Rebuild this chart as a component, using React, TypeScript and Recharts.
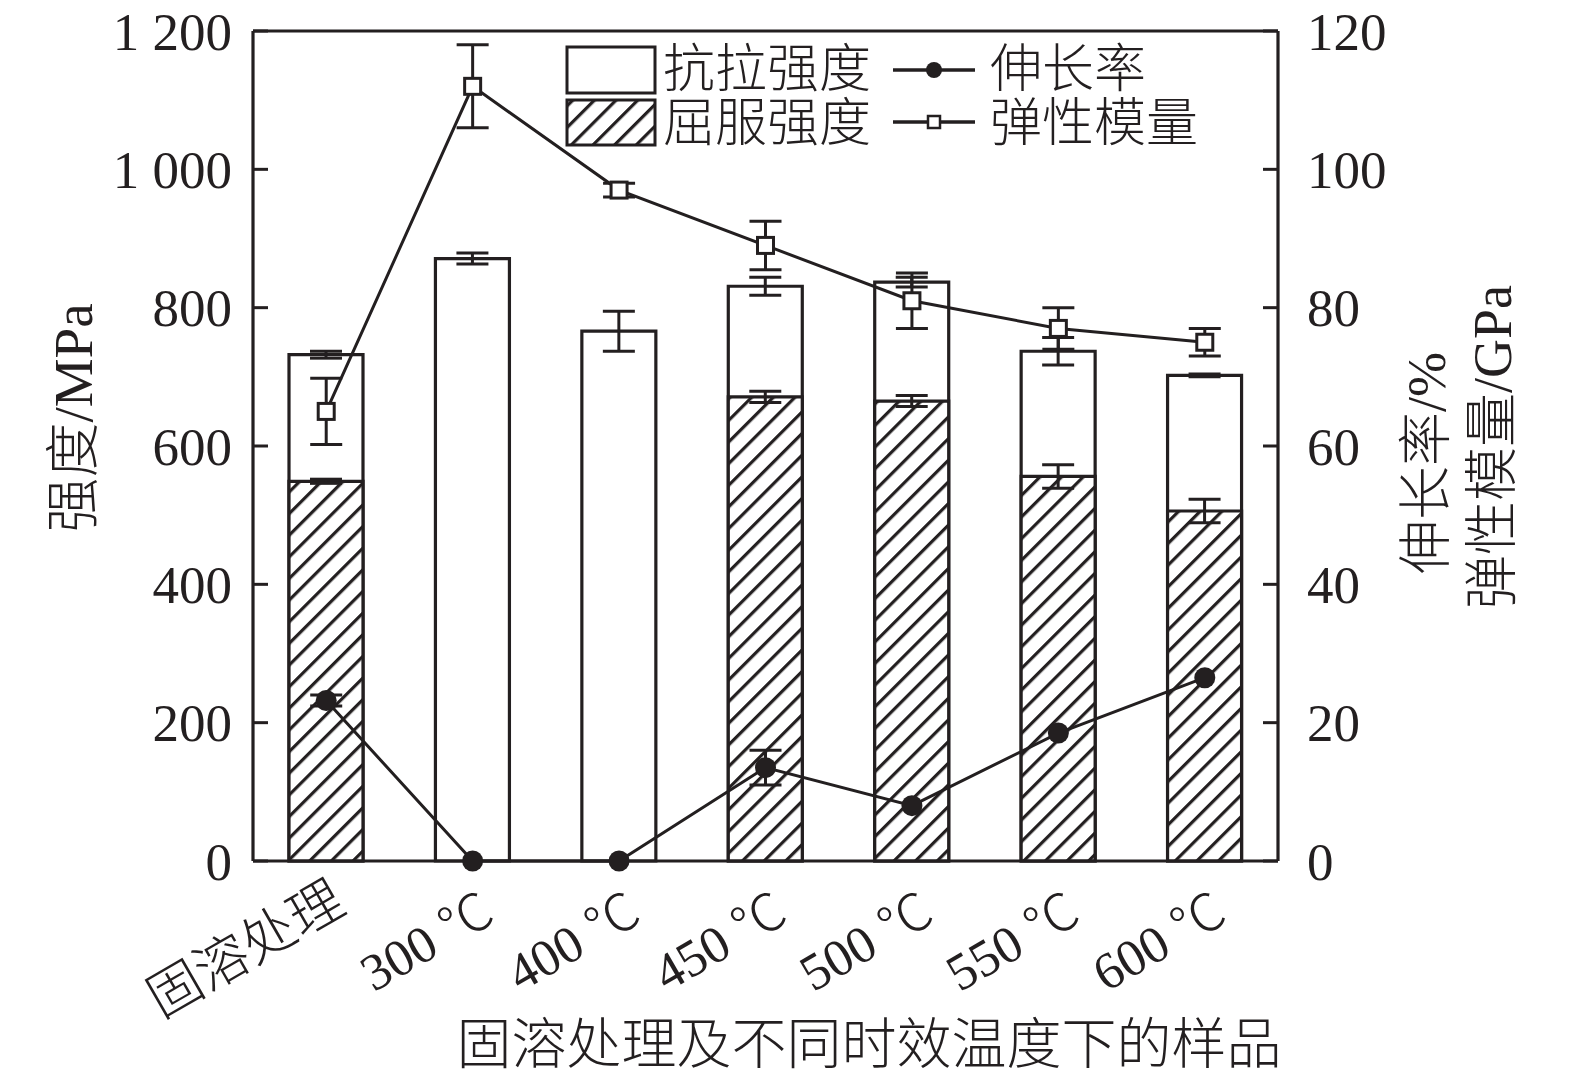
import React from 'react';
import {
  ComposedChart,
  Bar,
  Line,
  XAxis,
  YAxis,
  ErrorBar,
  ReferenceLine,
} from 'recharts';

const INK = '#231f20';
const FONT = "'Liberation Serif', 'Noto Sans CJK SC', serif";

// ---- data ----
const categories = ['固溶处理', '300 ℃', '400 ℃', '450 ℃', '500 ℃', '550 ℃', '600 ℃'];
const tensileStrength = [732, 871, 766, 831, 837, 737, 702];
const tensileErr = [5, 8, 29, 13, 7, 20, 2];
const yieldStrength: (number | null)[] = [549, null, null, 671, 665, 556, 506];
const yieldErr: (number | null)[] = [3, null, null, 8, 8, 17, 17];
const elongation = [23.2, 0, 0, 13.5, 8, 18.5, 26.5];
const elongationErr = [0.8, 0, 0, 2.5, 0, 0, 0];
const modulus = [65, 112, 97, 89, 81, 77, 75];
const modulusErr = [4.8, 6, 1, 3.5, 4, 3, 2];

const leftTicks = [0, 200, 400, 600, 800, 1000, 1200];
const rightTicks = [0, 20, 40, 60, 80, 100, 120];

const data = categories.map((name, i) => ({
  name,
  tensile: tensileStrength[i],
  tensileErr: tensileErr[i],
  yield: yieldStrength[i],
  yieldErr: yieldErr[i],
  elong: elongation[i],
  elongErr: elongationErr[i],
  mod: modulus[i],
  modErr: modulusErr[i],
}));

const fmtThousands = (v: number) => String(v).replace(/\B(?=(\d{3})+(?!\d))/g, ' ');

const XTick = (props: any) => {
  const { x, y, payload } = props;
  const isCJK = /[\u4e00-\u9fff]/.test(payload.value);
  const tx = x + (isCJK ? 22 : 25);
  const ty = y + (isCJK ? 50 : 60);
  return (
    <text
      x={tx}
      y={ty}
      transform={`rotate(-30, ${tx}, ${ty})`}
      textAnchor="end"
      fontFamily={FONT}
      fontWeight={300}
      fontSize={isCJK ? 54 : 52}
      fill={INK}
    >
      {payload.value}
    </text>
  );
};

const SquareDot = (props: any) => {
  const { cx, cy, index } = props;
  if (cx == null || cy == null) return <g key={`sq-${index}`} />;
  return (
    <rect
      key={`sq-${index}`}
      x={cx - 8}
      y={cy - 8}
      width={16}
      height={16}
      fill="#fff"
      stroke={INK}
      strokeWidth={3}
    />
  );
};

const CircleDot = (props: any) => {
  const { cx, cy, index } = props;
  if (cx == null || cy == null) return <g key={`ci-${index}`} />;
  return <circle key={`ci-${index}`} cx={cx} cy={cy} r={10.5} fill={INK} />;
};

const cjk = { fontFamily: FONT, fontWeight: 300, fill: INK } as const;

export default function App() {
  return (
    <div style={{ position: 'absolute', left: 0, top: 0 }}>
      <ComposedChart
        width={1575}
        height={1079}
        data={data}
        margin={{ top: 31, right: 147, bottom: 0, left: 0 }}
        barGap={-74}
        barSize={74}
      >
        <defs>
          <pattern
            id="hatch"
            width="15.3"
            height="15.3"
            patternUnits="userSpaceOnUse"
            patternTransform="rotate(45)"
          >
            <rect x="0" y="0" width="15.3" height="15.3" fill="#fff" />
            <line x1="1.6" y1="-1" x2="1.6" y2="16.3" stroke={INK} strokeWidth={3.2} />
          </pattern>
        </defs>
        <XAxis
          dataKey="name"
          height={218}
          interval={0}
          tickLine={false}
          tickSize={0}
          tickMargin={0}
          axisLine={{ stroke: INK, strokeWidth: 3.2 }}
          tick={<XTick />}
        />
        <YAxis
          yAxisId="left"
          width={253}
          domain={[0, 1200]}
          ticks={leftTicks}
          interval={0}
          tickFormatter={fmtThousands}
          tickSize={-15}
          tickMargin={36}
          axisLine={{ stroke: INK, strokeWidth: 3.2 }}
          tickLine={{ stroke: INK, strokeWidth: 3 }}
          tick={{ fontFamily: FONT, fontSize: 53, fill: INK }}
        />
        <YAxis
          yAxisId="right"
          orientation="right"
          width={150}
          domain={[0, 120]}
          ticks={rightTicks}
          interval={0}
          tickSize={-15}
          tickMargin={44}
          axisLine={{ stroke: INK, strokeWidth: 3.2 }}
          tickLine={{ stroke: INK, strokeWidth: 3 }}
          tick={{ fontFamily: FONT, fontSize: 53, fill: INK }}
        />
        <ReferenceLine yAxisId="left" y={1200} stroke={INK} strokeWidth={3.2} />
        <Bar
          yAxisId="left"
          dataKey="tensile"
          fill="#fff"
          stroke={INK}
          strokeWidth={3.2}
          isAnimationActive={false}
        >
          <ErrorBar dataKey="tensileErr" width={16} stroke={INK} strokeWidth={3} direction="y" />
        </Bar>
        <Bar
          yAxisId="left"
          dataKey="yield"
          fill="url(#hatch)"
          stroke={INK}
          strokeWidth={3.2}
          isAnimationActive={false}
        >
          <ErrorBar dataKey="yieldErr" width={16} stroke={INK} strokeWidth={3} direction="y" />
        </Bar>
        <Line
          yAxisId="right"
          dataKey="elong"
          type="linear"
          stroke={INK}
          strokeWidth={3}
          dot={false}
          activeDot={false}
          isAnimationActive={false}
        >
          <ErrorBar dataKey="elongErr" width={16} stroke={INK} strokeWidth={3} direction="y" />
        </Line>
        <Line
          yAxisId="right"
          dataKey="mod"
          type="linear"
          stroke={INK}
          strokeWidth={3}
          dot={false}
          activeDot={false}
          isAnimationActive={false}
        >
          <ErrorBar dataKey="modErr" width={16} stroke={INK} strokeWidth={3} direction="y" />
        </Line>
        {/* markers drawn last so they sit above the error bars */}
        <Line
          yAxisId="right"
          dataKey="elong"
          type="linear"
          stroke="none"
          dot={CircleDot}
          activeDot={false}
          legendType="none"
          isAnimationActive={false}
        />
        <Line
          yAxisId="right"
          dataKey="mod"
          type="linear"
          stroke="none"
          dot={SquareDot}
          activeDot={false}
          legendType="none"
          isAnimationActive={false}
        />

        {/* axis titles */}
        <text
          x={73}
          y={418}
          transform="rotate(-90, 73, 418)"
          textAnchor="middle"
          dominantBaseline="central"
          fontSize={55}
          {...cjk}
        >
          强度/MPa
        </text>
        <text
          x={1427}
          y={463}
          transform="rotate(-90, 1427, 463)"
          textAnchor="middle"
          dominantBaseline="central"
          fontSize={54}
          {...cjk}
        >
          伸长率/%
        </text>
        <text
          x={1493}
          y={447}
          transform="rotate(-90, 1493, 447)"
          textAnchor="middle"
          dominantBaseline="central"
          fontSize={54}
          {...cjk}
        >
          弹性模量/GPa
        </text>
        <text
          x={869}
          y={1044}
          textAnchor="middle"
          dominantBaseline="central"
          fontSize={55}
          {...cjk}
        >
          固溶处理及不同时效温度下的样品
        </text>

        {/* legend */}
        <g>
          <rect x={567} y={47} width={88} height={46} fill="#fff" stroke={INK} strokeWidth={3} />
          <rect x={567} y={100} width={88} height={45} fill="url(#hatch)" stroke={INK} strokeWidth={3} />
          <text x={663} y={69} dominantBaseline="central" fontSize={52} {...cjk}>
            抗拉强度
          </text>
          <text x={663} y={123} dominantBaseline="central" fontSize={52} {...cjk}>
            屈服强度
          </text>
          <line x1={893} y1={70} x2={975} y2={70} stroke={INK} strokeWidth={3.5} />
          <circle cx={934} cy={70} r={8} fill={INK} />
          <line x1={893} y1={122} x2={975} y2={122} stroke={INK} strokeWidth={3.5} />
          <rect x={928} y={116} width={12} height={12} fill="#fff" stroke={INK} strokeWidth={2.5} />
          <text x={990} y={69} dominantBaseline="central" fontSize={52} {...cjk}>
            伸长率
          </text>
          <text x={990} y={123} dominantBaseline="central" fontSize={52} {...cjk}>
            弹性模量
          </text>
        </g>
      </ComposedChart>
    </div>
  );
}
